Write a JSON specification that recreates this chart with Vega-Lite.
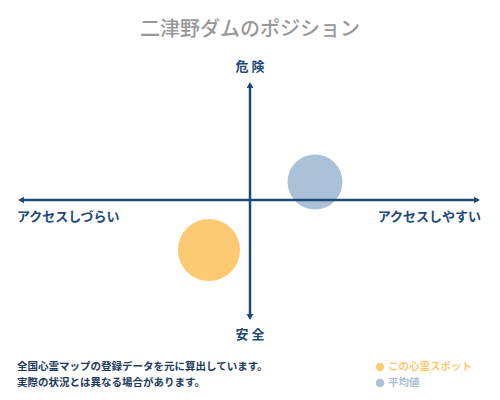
{
  "$schema": "https://vega.github.io/schema/vega-lite/v6.json",
  "description": "二津野ダムのポジション",
  "width": 500,
  "height": 400,
  "padding": 0,
  "autosize": {"type": "none"},
  "background": "white",
  "config": {"view": {"stroke": null}, "font": "Noto Sans CJK JP"},
  "datasets": {
    "spots": [
      {"name": "平均値", "access": 0.26, "danger": 0.09},
      {"name": "この心霊スポット", "access": -0.164, "danger": -0.25}
    ],
    "axes": [
      {"part": "h", "x1": -0.91, "x2": 0.91, "y1": 0, "y2": 0},
      {"part": "v", "x1": 0, "x2": 0, "y1": 0.58, "y2": -0.59}
    ],
    "heads": [
      {"dir": "left", "x": -0.916, "y": 0},
      {"dir": "right", "x": 0.908, "y": 0},
      {"dir": "up", "x": 0, "y": 0.575},
      {"dir": "down", "x": 0, "y": -0.585}
    ],
    "labels": [
      {"text": "危 険", "x": 0, "y": 0.665, "side": "center"},
      {"text": "安 全", "x": 0, "y": -0.675, "side": "center"},
      {"text": "アクセスしづらい", "x": -0.932, "y": -0.085, "side": "left"},
      {"text": "アクセスしやすい", "x": 0.924, "y": -0.085, "side": "right"}
    ],
    "notes": [
      {"text": "全国心霊マップの登録データを元に算出しています。", "x": -0.932, "y": -0.835},
      {"text": "実際の状況とは異なる場合があります。", "x": -0.932, "y": -0.915}
    ],
    "legend": [
      {"name": "この心霊スポット", "x": 0.52, "y": -0.835},
      {"name": "平均値", "x": 0.52, "y": -0.915}
    ]
  },
  "encoding": {
    "x": {"type": "quantitative", "scale": {"domain": [-1, 1]}, "axis": null},
    "y": {"type": "quantitative", "scale": {"domain": [-1, 1]}, "axis": null}
  },
  "layer": [
    {
      "data": {"name": "spots"},
      "mark": {"type": "circle", "opacity": 1},
      "encoding": {
        "x": {"field": "access", "type": "quantitative"},
        "y": {"field": "danger", "type": "quantitative"},
        "size": {"condition": {"test": "datum.name === '平均値'", "value": 3020}, "value": 3850},
        "color": {
          "field": "name",
          "type": "nominal",
          "scale": {"domain": ["この心霊スポット", "平均値"], "range": ["#fdca74", "#abc1d8"]},
          "legend": null
        }
      }
    },
    {
      "data": {"name": "axes"},
      "mark": {"type": "rule", "color": "#1d4a78", "strokeWidth": 2.5},
      "encoding": {
        "x": {"field": "x1", "type": "quantitative"},
        "x2": {"field": "x2"},
        "y": {"field": "y1", "type": "quantitative"},
        "y2": {"field": "y2"}
      }
    },
    {
      "data": {"name": "heads"},
      "mark": {"type": "point", "filled": true, "opacity": 1, "color": "#1d4a78", "size": 45},
      "encoding": {
        "x": {"field": "x", "type": "quantitative"},
        "y": {"field": "y", "type": "quantitative"},
        "shape": {
          "field": "dir",
          "type": "nominal",
          "scale": {
            "domain": ["left", "right", "up", "down"],
            "range": ["triangle-left", "triangle-right", "triangle-up", "triangle-down"]
          },
          "legend": null
        }
      }
    },
    {
      "data": {"name": "spots"},
      "mark": {"type": "circle", "opacity": 1},
      "encoding": {
        "x": {"field": "access", "type": "quantitative"},
        "y": {"field": "danger", "type": "quantitative"},
        "size": {"value": 12},
        "color": {
          "field": "name",
          "type": "nominal",
          "scale": {"domain": ["この心霊スポット", "平均値"], "range": ["#f2a31c", "#1d3550"]},
          "legend": null
        }
      }
    },
    {
      "data": {"values": [{"text": "二津野ダムのポジション", "x": 0, "y": 0.85}]},
      "mark": {"type": "text", "fontSize": 20, "fontWeight": 500, "color": "#999999", "baseline": "middle"},
      "encoding": {
        "x": {"field": "x", "type": "quantitative"},
        "y": {"field": "y", "type": "quantitative"},
        "text": {"field": "text"}
      }
    },
    {
      "data": {"name": "labels"},
      "transform": [{"filter": "datum.side === 'center'"}],
      "mark": {"type": "text", "fontSize": 13, "fontWeight": "bold", "color": "#1d4a78", "baseline": "middle", "align": "center"},
      "encoding": {
        "x": {"field": "x", "type": "quantitative"},
        "y": {"field": "y", "type": "quantitative"},
        "text": {"field": "text"}
      }
    },
    {
      "data": {"name": "labels"},
      "transform": [{"filter": "datum.side === 'left'"}],
      "mark": {"type": "text", "fontSize": 13, "fontWeight": "bold", "color": "#1d4a78", "baseline": "middle", "align": "left"},
      "encoding": {
        "x": {"field": "x", "type": "quantitative"},
        "y": {"field": "y", "type": "quantitative"},
        "text": {"field": "text"}
      }
    },
    {
      "data": {"name": "labels"},
      "transform": [{"filter": "datum.side === 'right'"}],
      "mark": {"type": "text", "fontSize": 13, "fontWeight": "bold", "color": "#1d4a78", "baseline": "middle", "align": "right"},
      "encoding": {
        "x": {"field": "x", "type": "quantitative"},
        "y": {"field": "y", "type": "quantitative"},
        "text": {"field": "text"}
      }
    },
    {
      "data": {"name": "notes"},
      "mark": {"type": "text", "fontSize": 10.5, "fontWeight": "bold", "color": "#1d3a5c", "baseline": "middle", "align": "left"},
      "encoding": {
        "x": {"field": "x", "type": "quantitative"},
        "y": {"field": "y", "type": "quantitative"},
        "text": {"field": "text"}
      }
    },
    {
      "data": {"name": "legend"},
      "mark": {"type": "circle", "opacity": 1, "size": 70},
      "encoding": {
        "x": {"field": "x", "type": "quantitative"},
        "y": {"field": "y", "type": "quantitative"},
        "color": {
          "field": "name",
          "type": "nominal",
          "scale": {"domain": ["この心霊スポット", "平均値"], "range": ["#f0a040", "#7aa4c9"]},
          "legend": null
        }
      }
    },
    {
      "data": {"name": "legend"},
      "mark": {"type": "text", "fontSize": 10.5, "fontWeight": "bold", "baseline": "middle", "align": "left", "dx": 8},
      "encoding": {
        "x": {"field": "x", "type": "quantitative"},
        "y": {"field": "y", "type": "quantitative"},
        "text": {"field": "name"},
        "color": {
          "field": "name",
          "type": "nominal",
          "scale": {"domain": ["この心霊スポット", "平均値"], "range": ["#dcab66", "#7aa4c9"]},
          "legend": null
        }
      }
    }
  ]
}
